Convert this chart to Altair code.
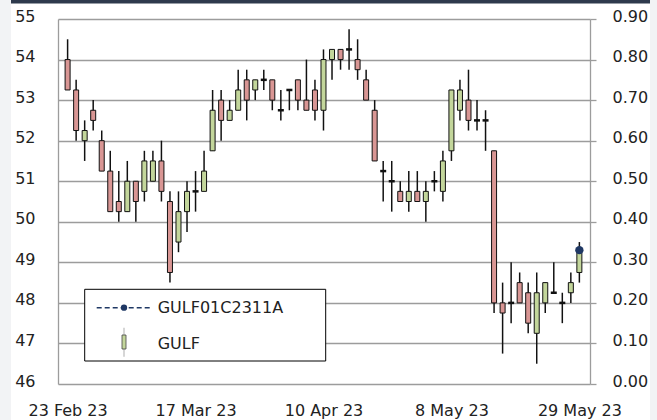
import altair as alt
import pandas as pd

# ---- data ----
idx = list(range(61))
opens = [54.0, 53.25, 52.0, 52.75, 52.0, 51.25, 50.5, 50.25, 51.0, 50.75,
         51.0, 51.5, 50.5, 49.5, 50.25, 50.75, 50.75, 51.75, 53.0, 52.5,
         52.75, 53.5, 53.25, 53.5, 53.5, 52.75, 53.25, 53.5, 53.0, 53.25,
         52.75, 54.0, 54.25, 54.25, 54.0, 53.5, 52.75, 51.25, 51.0, 50.75,
         50.5, 50.75, 50.5, 51.0, 50.75, 51.75, 52.75, 53.0, 52.5, 52.5,
         51.75, 48.0, 48.0, 48.5, 48.25, 47.25, 48.0, 48.25, 48.0, 48.25,
         48.75]
highs = [54.5, 53.5, 52.5, 53.0, 52.25, 51.75, 51.25, 51.5, 51.0, 51.75,
         51.75, 52.0, 50.75, 50.75, 51.0, 51.25, 51.75, 53.25, 53.25, 53.0,
         53.75, 53.75, 53.5, 53.75, 53.5, 53.25, 53.25, 53.5, 54.0, 53.5,
         54.25, 54.25, 54.25, 54.75, 54.5, 53.75, 53.0, 51.5, 51.5, 51.0,
         51.25, 51.25, 51.0, 51.25, 51.75, 53.25, 53.5, 53.75, 53.0, 52.75,
         51.75, 48.5, 49.0, 48.75, 48.5, 48.75, 48.5, 49.0, 48.25, 48.75,
         49.5]
lows = [53.25, 52.0, 51.5, 52.25, 51.25, 50.25, 50.0, 50.25, 50.0, 50.5,
        51.0, 50.5, 48.5, 49.25, 49.75, 50.25, 50.75, 51.75, 52.0, 52.5,
        52.75, 52.5, 53.0, 53.25, 52.75, 52.5, 52.75, 52.75, 52.75, 52.5,
        52.25, 53.5, 53.75, 53.75, 53.5, 53.0, 51.5, 50.5, 50.25, 50.5,
        50.25, 50.5, 50.0, 50.75, 50.5, 51.5, 52.5, 52.25, 52.25, 51.75,
        47.75, 46.75, 47.5, 48.0, 47.25, 46.5, 47.75, 48.25, 47.5, 48.0,
        48.5]
closes = [53.25, 52.25, 52.25, 52.5, 51.25, 50.25, 50.25, 51.0, 50.5, 51.5,
          51.5, 50.75, 48.75, 50.25, 50.75, 50.75, 51.25, 52.75, 52.5, 52.75,
          53.25, 53.0, 53.5, 53.5, 53.0, 52.75, 53.25, 53.0, 52.75, 52.75,
          54.0, 54.25, 54.0, 54.25, 53.75, 53.0, 51.5, 51.25, 51.0, 50.5,
          50.75, 50.5, 50.75, 51.0, 51.5, 53.25, 53.25, 52.5, 52.5, 52.5,
          48.0, 47.75, 48.0, 48.0, 47.5, 48.25, 48.5, 48.25, 48.0, 48.5,
          49.25]

x_tick_values = [0, 15, 30, 45, 60]
x_tick_labels = ["23 Feb 23", "17 Mar 23", "10 Apr 23", "8 May 23", "29 May 23"]
left_ticks = [46, 47, 48, 49, 50, 51, 52, 53, 54, 55]
right_ticks = [0.0, 0.1, 0.2, 0.3, 0.4, 0.5, 0.6, 0.7, 0.8, 0.9]

dw_index = [60]
dw_value = [0.33]

legend_labels = ["GULF01C2311A", "GULF"]

# ---- styling ----
FONT = "DejaVu Sans"
TXT = "#222222"
GRID = "#9c9c9c"
RED = "#d99694"
GREEN = "#c3d69b"
NAVY = "#1f3864"
INK = "#111111"

df = pd.DataFrame({"i": idx, "open": opens, "high": highs, "low": lows, "close": closes})
df["dir"] = ["up" if c > o else ("down" if c < o else "flat") for o, c in zip(opens, closes)]
dwdf = pd.DataFrame({"i": dw_index, "v": dw_value})
one = pd.DataFrame({"k": [0]})


def xs():
    return alt.Scale(domain=[-0.54, 60.66], nice=False, zero=False)


def ls():
    return alt.Scale(domain=[46, 55], nice=False, zero=False)


def rs():
    return alt.Scale(domain=[0, 0.9], nice=False, zero=False)


expr = "''"
for v, s in reversed(list(zip(x_tick_values, x_tick_labels))):
    expr = f"datum.value == {v} ? '{s}' : ({expr})"

xaxis = alt.Axis(values=x_tick_values, labelExpr=expr, grid=False, ticks=False,
                 domain=False, labelFontSize=16, labelFont=FONT, labelColor=TXT,
                 labelPadding=18, labelOverlap=False, labelFlush=False, title=None)
laxis = alt.Axis(values=left_ticks, orient="left", grid=True, gridColor=GRID,
                 gridWidth=1.3, domain=True, domainColor=GRID, domainWidth=1.3,
                 ticks=False, tickSize=0, labelPadding=23, labelOffset=-3,
                 labelFontSize=16, labelFont=FONT, labelColor=TXT, format="d",
                 title=None)
raxis = alt.Axis(values=right_ticks, orient="right", grid=False, domain=True,
                 domainColor=GRID, domainWidth=1.3, ticks=True, tickColor=GRID,
                 tickWidth=1.3, tickSize=6, labelPadding=16, labelOffset=-3,
                 labelFontSize=16, labelFont=FONT, labelColor=TXT, format=".2f",
                 title=None)

wick = alt.Chart(df).mark_rule(color=INK, strokeWidth=1.5).encode(
    x=alt.X("i:Q", scale=xs(), axis=xaxis),
    y=alt.Y("low:Q", scale=ls(), axis=laxis),
    y2="high:Q",
)
body = alt.Chart(df).transform_filter("datum.open != datum.close").mark_bar(
    size=5, stroke=INK, strokeWidth=1
).encode(
    x=alt.X("i:Q", scale=xs()),
    y=alt.Y("open:Q", scale=ls(), axis=None),
    y2="close:Q",
    fill=alt.Fill("dir:N", scale=alt.Scale(domain=["up", "down"], range=[GREEN, RED]), legend=None),
)
doji = alt.Chart(df).transform_filter("datum.open == datum.close").mark_tick(
    orient="horizontal", thickness=2.5, size=6, color=INK, opacity=1
).encode(
    x=alt.X("i:Q", scale=xs()),
    y=alt.Y("open:Q", scale=ls(), axis=None),
)

dw_line = alt.Chart(dwdf).mark_line(color=NAVY, strokeDash=[5, 3], strokeWidth=1.5).encode(
    x=alt.X("i:Q", scale=xs()),
    y=alt.Y("v:Q", scale=rs(), axis=raxis),
)
dw_pt = alt.Chart(dwdf).mark_point(filled=True, size=70, color=NAVY, opacity=1).encode(
    x=alt.X("i:Q", scale=xs()),
    y=alt.Y("v:Q", scale=rs(), axis=None),
)

# ---- decorations (page frame + legend) ----
left_strip = alt.Chart(one).mark_rect(color="#f2f3f5").encode(
    x=alt.value(-58), x2=alt.value(-47), y=alt.value(-19), y2=alt.value(401))
right_strip = alt.Chart(one).mark_rect(color="#f2f3f5").encode(
    x=alt.value(592), x2=alt.value(599), y=alt.value(-19), y2=alt.value(401))
top_band = alt.Chart(one).mark_rect(color="#2e3a4d").encode(
    x=alt.value(-47), x2=alt.value(592), y=alt.value(-19), y2=alt.value(-15.5))

leg_box = alt.Chart(one).mark_rect(fill="white", stroke="#000000", strokeWidth=1).encode(
    x=alt.value(26.7), x2=alt.value(267.7), y=alt.value(270.3), y2=alt.value(342))
leg_dash = alt.Chart(one).mark_rule(color=NAVY, strokeDash=[5, 3], strokeWidth=1.5).encode(
    x=alt.value(38.7), x2=alt.value(92), y=alt.value(288.7))
leg_dot = alt.Chart(one).mark_point(filled=True, size=40, color=NAVY, opacity=1).encode(
    x=alt.value(66), y=alt.value(288.7))
leg_wick = alt.Chart(one).mark_rule(color="#c8c8c8", strokeWidth=1.5).encode(
    x=alt.value(66), y=alt.value(308.7), y2=alt.value(337.7))
leg_body = alt.Chart(one).mark_rect(fill=GREEN, stroke="#444444", strokeWidth=0.8).encode(
    x=alt.value(64), x2=alt.value(68), y=alt.value(316), y2=alt.value(330))
leg_t1 = alt.Chart(one).mark_text(align="left", baseline="middle", fontSize=16, font=FONT, color=TXT).encode(
    x=alt.value(99.7), y=alt.value(288.7), text=alt.value(legend_labels[0]))
leg_t2 = alt.Chart(one).mark_text(align="left", baseline="middle", fontSize=16, font=FONT, color=TXT).encode(
    x=alt.value(99.7), y=alt.value(325), text=alt.value(legend_labels[1]))

chart = alt.layer(
    wick, left_strip, right_strip, top_band, body, doji, dw_line, dw_pt,
    leg_box, leg_dash, leg_dot, leg_wick, leg_body, leg_t1, leg_t2,
).resolve_scale(y="independent").properties(
    width=532, height=365,
    autosize=alt.AutoSizeParams(type="none"),
    padding={"left": 58, "top": 19, "right": 67, "bottom": 36},
    background="white",
).configure_view(strokeWidth=0)

chart.save("out.html", embed_options={"renderer": "svg", "actions": False})
